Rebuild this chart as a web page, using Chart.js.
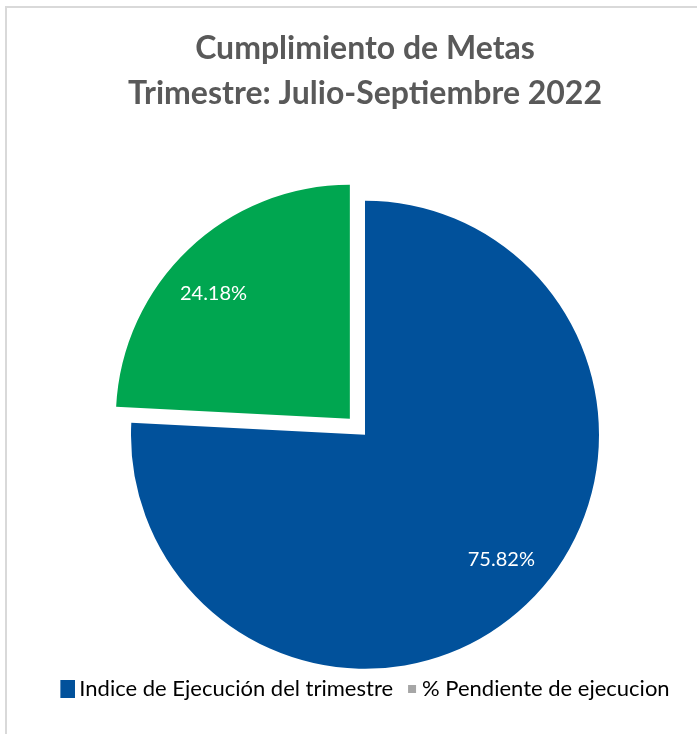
<!DOCTYPE html>
<html>
<head>
<meta charset="utf-8">
<script src="https://cdn.jsdelivr.net/npm/chart.js@4.4.0/dist/chart.umd.min.js"></script>
<style>
  html, body { margin: 0; padding: 0; background: #fff; }
  #marco {
    position: absolute; left: 5px; top: 6px; width: 690px; height: 726px;
    border-left: 2px solid #d9d9d9; border-top: 2px solid #d9d9d9;
  }
  #grafico { display: block; }
</style>
</head>
<body>
<div id="marco"><canvas id="grafico" width="690" height="726"></canvas></div>
<script>
const titulo = ["Cumplimiento de Metas", "Trimestre: Julio-Septiembre 2022"];
const etiquetas = ["Indice de Ejecución del trimestre", "% Pendiente de ejecucion"];
const valores = [75.82, 24.18];
const colores = ["#01519B", "#00A650"];
const coloresLeyenda = ["#01519B", "#A6A6A6"];
const separacion = [0, 22];

// marcas de la leyenda: se dibujan pegadas a la derecha para acercarlas al texto
const marca = (color, w, h, derecha) => {
  let c = document.createElement("canvas");
  c.width = 22;
  c.height = 18;
  let g = c.getContext("2d");
  g.fillStyle = color;
  g.fillRect(22 - derecha - w, (18 - h) / 2, w, h);
  return c;
};
const marcas = [marca(coloresLeyenda[0], 15, 18, 0), marca(coloresLeyenda[1], 8, 8, 2)];

const etiquetasDatos = {
  id: "etiquetasDatos",
  afterDatasetsDraw(chart) {
    let ctx = chart.ctx;
    let meta = chart.getDatasetMeta(0);
    ctx.save();
    ctx.fillStyle = "#ffffff";
    ctx.font = "20px Lato";
    ctx.textAlign = "center";
    ctx.textBaseline = "middle";
    meta.data.forEach((arc, i) => {
      let p = arc.getProps(["x", "y", "startAngle", "endAngle", "outerRadius"]);
      let mid = (p.startAngle + p.endAngle) / 2;
      let off = separacion[i];
      let ax = p.x + Math.cos(mid) * off;
      let ay = p.y + Math.sin(mid) * off;
      let a = mid - (4 * Math.PI) / 180;
      let r = p.outerRadius * 0.79;
      ctx.fillText(valores[i].toFixed(2) + "%", ax + Math.cos(a) * r, ay + Math.sin(a) * r);
    });
    ctx.restore();
  },
};

new Chart(document.getElementById("grafico"), {
  type: "pie",
  data: {
    labels: etiquetas,
    datasets: [
      {
        data: valores,
        backgroundColor: colores,
        borderWidth: 0,
        // chart.js v4 divide el offset entre 4
        offset: separacion.map((v) => v * 4),
        clip: false,
      },
    ],
  },
  options: {
    responsive: false,
    animation: false,
    radius: 234,
    layout: { padding: { left: 26, right: 0, top: 0, bottom: 24 } },
    plugins: {
      title: {
        display: true,
        text: titulo,
        color: "#595959",
        font: { family: "Lato", size: 32, weight: "bold", lineHeight: 1.4 },
        padding: { top: 18, bottom: 86 },
      },
      legend: {
        position: "bottom",
        labels: {
          usePointStyle: true,
          pointStyleWidth: 8,
          boxHeight: 18,
          padding: 10,
          color: "#595959",
          font: { family: "Lato", size: 22 },
          generateLabels: () =>
            etiquetas.map((t, i) => ({
              text: t,
              fillStyle: coloresLeyenda[i],
              strokeStyle: "transparent",
              lineWidth: 0,
              pointStyle: marcas[i],
              hidden: false,
              index: i,
            })),
        },
      },
      tooltip: { enabled: false },
    },
  },
  plugins: [etiquetasDatos],
});
</script>
</body>
</html>
